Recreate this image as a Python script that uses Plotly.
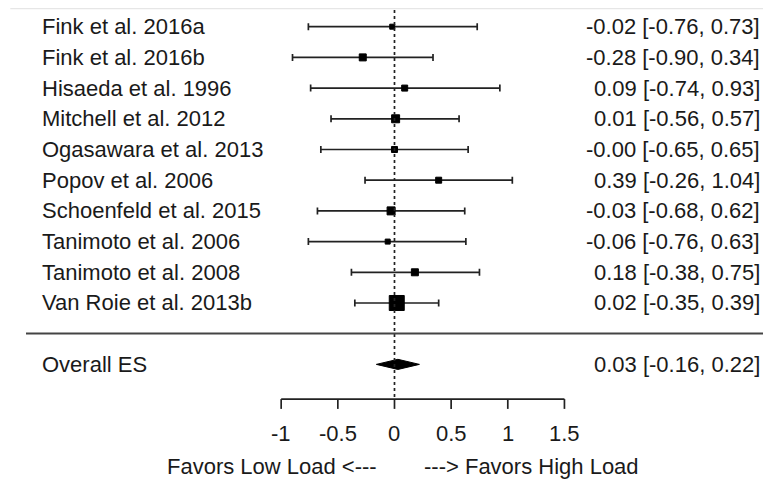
import plotly.graph_objects as go

studies = ["Fink et al. 2016a", "Fink et al. 2016b", "Hisaeda et al. 1996", "Mitchell et al. 2012",
           "Ogasawara et al. 2013", "Popov et al. 2006", "Schoenfeld et al. 2015", "Tanimoto et al. 2006",
           "Tanimoto et al. 2008", "Van Roie et al. 2013b"]
es = [-0.02, -0.28, 0.09, 0.01, -0.00, 0.39, -0.03, -0.06, 0.18, 0.02]
lo = [-0.76, -0.90, -0.74, -0.56, -0.65, -0.26, -0.68, -0.76, -0.38, -0.35]
hi = [0.73, 0.34, 0.93, 0.57, 0.65, 1.04, 0.62, 0.63, 0.75, 0.39]
es_text = ["-0.02", "-0.28", "0.09", "0.01", "-0.00", "0.39", "-0.03", "-0.06", "0.18", "0.02"]
overall_label = "Overall ES"
overall_es, overall_lo, overall_hi = 0.03, -0.16, 0.22
tick_vals = [-1, -0.5, 0, 0.5, 1, 1.5]
tick_text = ["-1", "-0.5", "0", "0.5", "1", "1.5"]
axis_title_left = "Favors Low Load <---"
axis_title_right = "---> Favors High Load"

marker_sizes = [5, 7, 6, 8, 6, 6, 8, 5, 7, 15]

FONT = "Liberation Sans, Arial, sans-serif"
FS = 22
TXT = "#1a1a1a"
LINE = "#222222"

rows = list(range(len(studies)))
overall_row = len(studies) + 1
sep_row = len(studies)
axis_row = overall_row + 1.13
tick_end = axis_row + 0.32
ticklab_row = overall_row + 2.24
title_row = overall_row + 3.33

fig = go.Figure()

fig.add_trace(go.Scatter(
    x=es, y=rows, mode="markers",
    marker=dict(symbol="square", size=marker_sizes, color="#000000", opacity=1,
                line=dict(width=1, color="#000000")),
    error_x=dict(type="data", symmetric=False,
                 array=[h - e for h, e in zip(hi, es)],
                 arrayminus=[e - l for e, l in zip(es, lo)],
                 color=LINE, thickness=1.7, width=3.5),
    hoverinfo="skip", showlegend=False,
))

dh = 0.165
fig.add_trace(go.Scatter(
    x=[overall_lo, overall_es, overall_hi, overall_es, overall_lo],
    y=[overall_row, overall_row - dh, overall_row, overall_row + dh, overall_row],
    mode="lines", fill="toself", fillcolor="#000000",
    line=dict(color="#000000", width=1), hoverinfo="skip", showlegend=False,
))

shapes = []
# faint top rule
shapes.append(dict(type="line", xref="paper", yref="y", x0=0.003, x1=1, y0=-0.59, y1=-0.59,
                   line=dict(color="#e6e6e6", width=1.5)))
# dotted null line
shapes.append(dict(type="line", xref="x", yref="y", x0=0, x1=0, y0=-0.54, y1=axis_row,
                   line=dict(color=LINE, width=1.7, dash="dot")))
# separator
shapes.append(dict(type="line", xref="paper", yref="y", x0=0.0236, x1=1, y0=sep_row - 0.01, y1=sep_row - 0.01,
                   line=dict(color="#444444", width=2)))
# axis line
shapes.append(dict(type="line", xref="x", yref="y", x0=tick_vals[0], x1=tick_vals[-1], y0=axis_row, y1=axis_row,
                   line=dict(color=LINE, width=1.7)))
for tv in tick_vals:
    shapes.append(dict(type="line", xref="x", yref="y", x0=tv, x1=tv, y0=axis_row, y1=tick_end,
                       line=dict(color=LINE, width=1.7)))

ann = []
LX, RX = 0.0419, 0.9878
for i, s in enumerate(studies):
    ann.append(dict(x=LX, xref="paper", y=i, yref="y", text=s, showarrow=False, xanchor="left",
                    font=dict(family=FONT, size=FS, color=TXT)))
    ann.append(dict(x=RX, xref="paper", y=i, yref="y",
                    text=f"{es_text[i]} [{lo[i]:.2f}, {hi[i]:.2f}]",
                    showarrow=False, xanchor="right", font=dict(family=FONT, size=FS, color=TXT)))
ann.append(dict(x=LX, xref="paper", y=overall_row, yref="y", text=overall_label, showarrow=False,
                xanchor="left", font=dict(family=FONT, size=FS, color=TXT)))
ann.append(dict(x=RX, xref="paper", y=overall_row, yref="y",
                text=f"{overall_es:.2f} [{overall_lo:.2f}, {overall_hi:.2f}]", showarrow=False,
                xanchor="right", font=dict(family=FONT, size=FS, color=TXT)))
for tv, tt in zip(tick_vals, tick_text):
    ann.append(dict(x=tv, xref="x", y=ticklab_row, yref="y", text=tt, showarrow=False, xanchor="center",
                    font=dict(family=FONT, size=FS, color=TXT)))
ann.append(dict(x=-0.14, xref="x", y=title_row, yref="y", text=axis_title_left, showarrow=False,
                xanchor="right", font=dict(family=FONT, size=FS, color=TXT)))
ann.append(dict(x=0.24, xref="x", y=title_row, yref="y", text=axis_title_right, showarrow=False,
                xanchor="left", font=dict(family=FONT, size=FS, color=TXT)))

fig.update_layout(
    width=763, height=474, autosize=False,
    margin=dict(l=0, r=0, t=0, b=0),
    paper_bgcolor="white", plot_bgcolor="white",
    xaxis=dict(range=[-3.411, 3.323], visible=False, fixedrange=True),
    yaxis=dict(range=[14.831, -0.609], visible=False, fixedrange=True),
    shapes=shapes, annotations=ann,
)

fig.write_html("out.html")
